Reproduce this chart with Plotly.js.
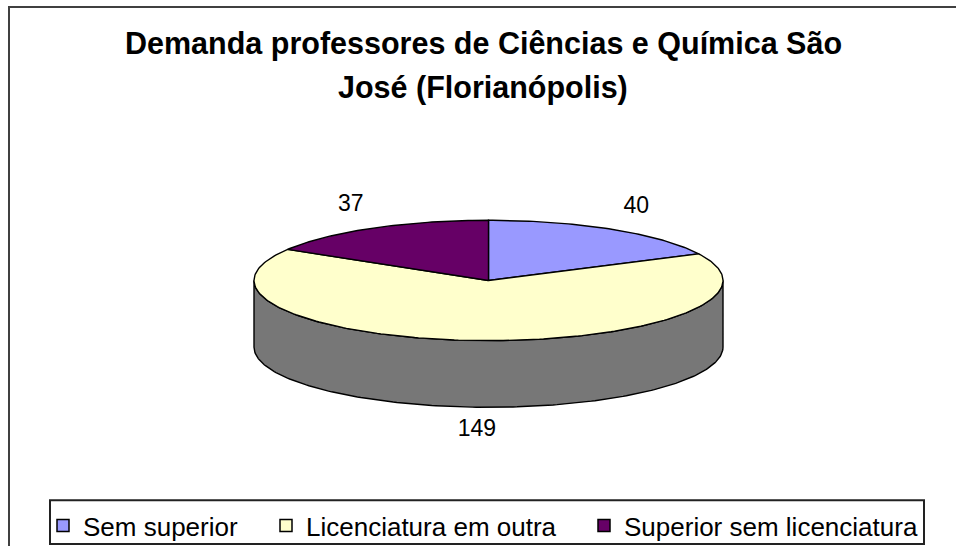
<!DOCTYPE html>
<html><head><meta charset="utf-8">
<script src="https://cdn.plot.ly/plotly-3.0.1.min.js"></script>
<style>html,body{margin:0;padding:0;background:#fff}</style>
</head><body><div id="chart" style="width:956px;height:549px"></div>
<script>
// ---- data ----
const categories = ['Sem superior', 'Licenciatura em outra', 'Superior sem licenciatura'];
const values = [40, 149, 37];
const colors = ['#9999FF', '#FFFFCC', '#660066'];
const titleLines = ['Demanda professores de Ciências e Química São', 'José (Florianópolis)'];

// ---- geometry / style constants ----
const W = 956, H = 549;
const CX = 488.5, CY = 282, RX = 234.5, RY = 60.5, DEPTH = 67;
const SIDE = '#777777';
const LRX = 280, LRY = 87, LDROP = 64;
const FONT = 'Liberation Sans, Arial, sans-serif';
const legendX = [43, 266, 584];
const titleY = [44, 88];

const total = values.reduce((a, b) => a + b, 0);
function pt(deg, dy) { const r = deg * Math.PI / 180; return [CX + RX * Math.sin(r), CY - RY * Math.cos(r) + (dy || 0)]; }
function arc(a0, a1, dy) {
  const n = Math.max(2, Math.ceil(Math.abs(a1 - a0)));
  const xs = [], ys = [];
  for (let i = 0; i <= n; i++) { const p = pt(a0 + (a1 - a0) * i / n, dy); xs.push(p[0]); ys.push(p[1]); }
  return [xs, ys];
}
const slices = [];
let acc = 0;
values.forEach(v => { const a0 = acc, a1 = acc + v / total * 360; slices.push([a0, a1]); acc = a1; });

const traces = [];
// visible side walls (front half of the disc)
slices.forEach(([a0, a1], i) => {
  const s = Math.max(a0, 90), e = Math.min(a1, 270);
  if (e > s) {
    const [tx, ty] = arc(s, e, 0);
    const [bx, by] = arc(e, s, DEPTH);
    traces.push({type: 'scatter', mode: 'lines', x: tx.concat(bx, [tx[0]]), y: ty.concat(by, [ty[0]]),
      fill: 'toself', fillcolor: SIDE, line: {color: '#000', width: 1.4}, hoverinfo: 'skip', showlegend: false});
  }
});
// top faces
slices.forEach(([a0, a1], i) => {
  const [ax, ay] = arc(a0, a1, 0);
  traces.push({type: 'scatter', mode: 'lines', x: [CX].concat(ax, [CX]), y: [CY].concat(ay, [CY]),
    fill: 'toself', fillcolor: colors[i], line: {color: '#000', width: 1.4},
    name: categories[i], text: categories[i] + ': ' + values[i], hoverinfo: 'text', hoveron: 'fills', showlegend: false});
});
// value labels
const lx = [], ly = [];
slices.forEach(([a0, a1]) => {
  const m = (a0 + a1) / 2 * Math.PI / 180;
  lx.push(CX + LRX * Math.sin(m));
  ly.push(CY - LRY * Math.cos(m) + (Math.cos(m) < 0 ? LDROP : 0));
});
traces.push({type: 'scatter', mode: 'text', x: lx, y: ly, text: values.map(String),
  textfont: {family: FONT, size: 23, color: '#000'}, hoverinfo: 'skip', showlegend: false});
// legend entries (one legend per entry so the spacing can follow the reference)
const legendKeys = ['legend', 'legend2', 'legend3'];
categories.forEach((c, i) => {
  traces.push({type: 'scatter', mode: 'markers', x: [null], y: [null], name: c, legend: legendKeys[i],
    marker: {symbol: 'square', size: 12, color: colors[i], line: {color: '#000', width: 1.5}}});
});

const layout = {
  width: W, height: H,
  margin: {l: 0, r: 0, t: 0, b: 0},
  paper_bgcolor: '#fff', plot_bgcolor: '#fff',
  xaxis: {range: [0, W], visible: false, fixedrange: true},
  yaxis: {range: [H, 0], visible: false, fixedrange: true},
  showlegend: true,
  annotations: titleLines.map((t, i) => ({
    text: t, xref: 'paper', yref: 'paper', x: 483 / W, y: 1 - titleY[i] / H, xanchor: 'center', yanchor: 'middle',
    showarrow: false, font: {family: FONT, size: 30.5, color: '#000', weight: 'bold'}})),
  shapes: [
    {type: 'line', xref: 'paper', yref: 'paper', x0: 8 / W, y0: 1 - 7 / H, x1: 1, y1: 1 - 7 / H, line: {color: '#404040', width: 2}},
    {type: 'line', xref: 'paper', yref: 'paper', x0: 9 / W, y0: 1 - 6 / H, x1: 9 / W, y1: 0, line: {color: '#404040', width: 2}},
    {type: 'rect', xref: 'paper', yref: 'paper', x0: 50 / W, y0: 1 - 503 / H, x1: 924 / W, y1: 1 - 547 / H, line: {color: '#222', width: 2}}
  ],
  hovermode: 'closest'
};
legendKeys.forEach((k, i) => {
  layout[k] = {orientation: 'h', x: legendX[i] / W, xanchor: 'left', y: 1 - 505 / H, yanchor: 'top',
    borderwidth: 0, bgcolor: 'rgba(0,0,0,0)', font: {family: FONT, size: 26, color: '#000'}};
});
Plotly.newPlot('chart', traces, layout, {displayModeBar: false});
</script></body></html>
